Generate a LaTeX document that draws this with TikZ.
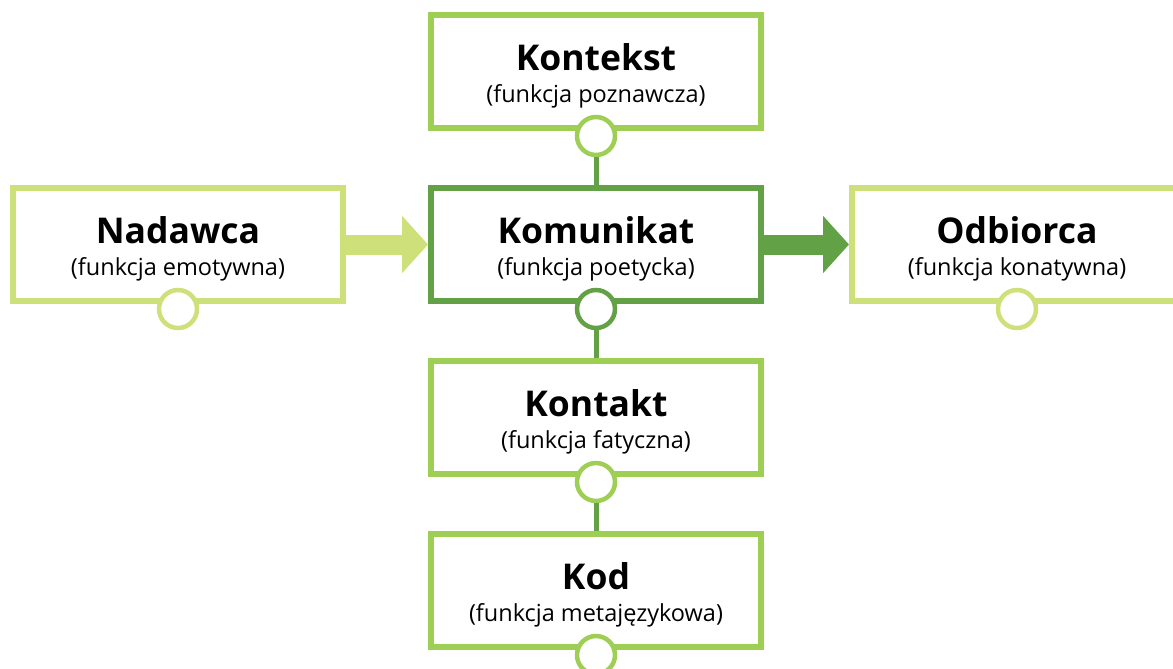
\documentclass[tikz,border=0pt]{standalone}
\usepackage{fontspec}
\setmainfont{Open Sans}
\usetikzlibrary{calc,arrows.meta}
\definecolor{sidegreen}{RGB}{206,224,122}
\definecolor{axisgreen}{RGB}{158,207,84}
\definecolor{msggreen}{RGB}{98,161,70}
\newcommand{\ttl}[1]{{\fontsize{35.5}{32}\selectfont\bfseries\rule{0pt}{35pt}#1}}

\begin{document}
\begin{tikzpicture}[x=1pt,y=-1pt,
		box/.style={draw=#1,line width=6pt,fill=white,minimum width=330pt,minimum height=113pt,
			inner sep=0pt,align=center,font=\fontsize{23.5}{32}\selectfont},
		dot/.style={circle,draw=#1,line width=4.5pt,fill=white,minimum size=38pt,inner sep=0pt},
		link/.style={draw=msggreen,line width=5pt},
		fat/.style={draw=#1,line width=20pt,-{Triangle[length=26pt,width=56pt]}}]
		\useasboundingbox (0,0) rectangle (1173,669);

		% boxes
		\node[box=axisgreen] (kontekst) at (596,71.5) {\ttl{Kontekst}\\(funkcja poznawcza)};
		\node[box=sidegreen] (nadawca) at (178,244.5) {\ttl{Nadawca}\\(funkcja emotywna)};
		\node[box=msggreen] (komunikat) at (596,244.5) {\ttl{Komunikat}\\(funkcja poetycka)};
		\node[box=sidegreen] (odbiorca) at (1017,244.5) {\ttl{Odbiorca}\\(funkcja konatywna)};
		\node[box=axisgreen] (kontakt) at (596,417.5) {\ttl{Kontakt}\\(funkcja fatyczna)};
		\node[box=axisgreen] (kod) at (596,590.5) {\ttl{Kod}\\(funkcja metajęzykowa)};

		\draw[fat=sidegreen] (nadawca) -- (komunikat);
		\draw[fat=msggreen] (komunikat) -- (odbiorca);

		% circles under the boxes
		\node[dot=axisgreen] (kontekst-o) at ($(kontekst.south)+(0,5)$) {};
		\node[dot=sidegreen] (nadawca-o) at ($(nadawca.south)+(0,5)$) {};
		\node[dot=msggreen] (komunikat-o) at ($(komunikat.south)+(0,5)$) {};
		\node[dot=sidegreen] (odbiorca-o) at ($(odbiorca.south)+(0,5)$) {};
		\node[dot=axisgreen] (kontakt-o) at ($(kontakt.south)+(0,5)$) {};
		\node[dot=axisgreen] (kod-o) at ($(kod.south)+(0,5)$) {};

		\draw[link] (kontekst-o) -- (komunikat);
		\draw[link] (komunikat-o) -- (kontakt);
		\draw[link] (kontakt-o) -- (kod);
	\end{tikzpicture}
\end{document}
